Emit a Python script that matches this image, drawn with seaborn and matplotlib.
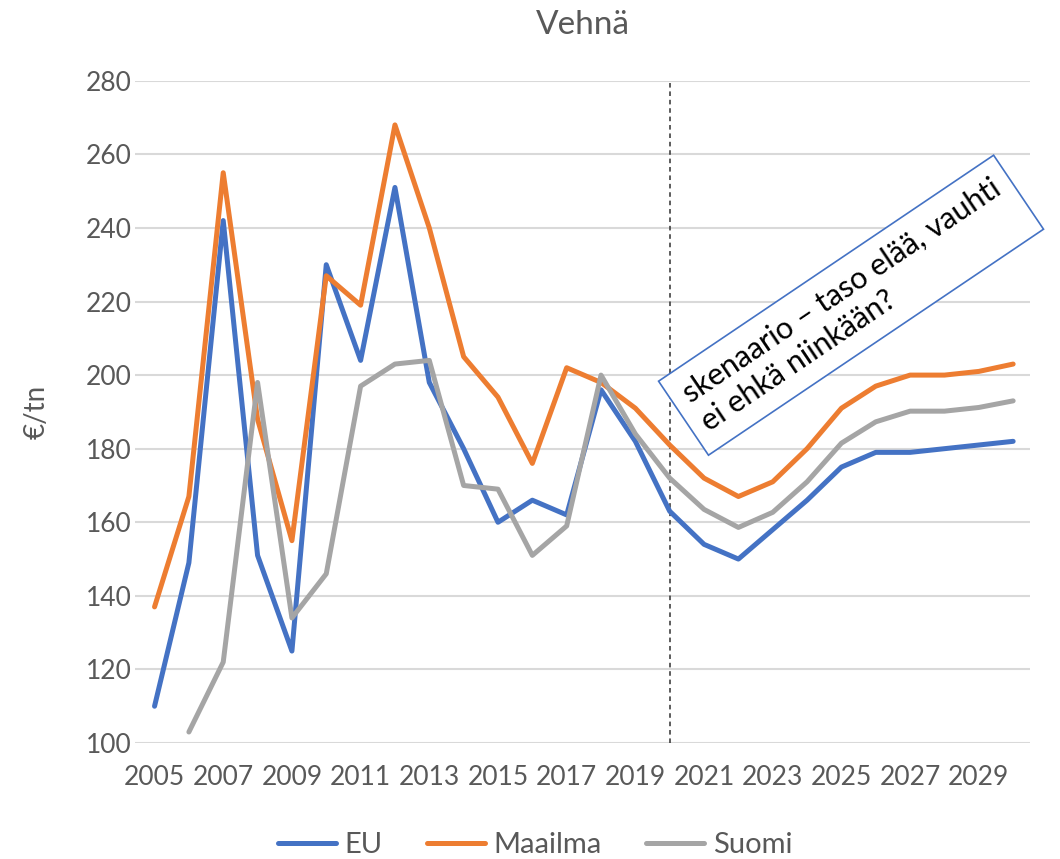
import numpy as np
import pandas as pd
import matplotlib
matplotlib.use("Agg")
import matplotlib.pyplot as plt
import seaborn as sns

years = list(range(2005, 2031))
eu = [110, 149, 242, 151, 125, 230, 204, 251, 198, 180, 160, 166, 162, 196, 182, 163,
      154, 150, 158, 166, 175, 179, 179, 180, 181, 182]
maailma = [137, 167, 255, 188, 155, 227, 219, 268, 240, 205, 194, 176, 202, 198, 191, 181,
           172, 167, 171, 180, 191, 197, 200, 200, 201, 203]
suomi = [np.nan, 103, 122, 198, 134, 146, 197, 203, 204, 170, 169, 151, 159, 200, 184, 172,
         163.5, 158.6, 162.7, 171, 181.5, 187.3, 190.2, 190.2, 191.2, 193]
series_names = ["EU", "Maailma", "Suomi"]
colors = ["#4472C4", "#ED7D31", "#A5A5A5"]
forecast_start = 2020
note = "skenaario – taso elää, vauhti\nei ehkä niinkään?"

df = pd.DataFrame({"vuosi": years, "EU": eu, "Maailma": maailma, "Suomi": suomi})
long = df.melt(id_vars="vuosi", var_name="sarja", value_name="hinta").dropna()

sns.set_style("white")
plt.rcParams["font.family"] = ["Lato", "DejaVu Sans"]
text_col = "#595959"

fig = plt.figure(figsize=(10.6, 8.59), dpi=100)
ax = fig.add_axes([0.127, 0.135, 0.845, 0.771])

ax.yaxis.grid(True, color="#D9D9D9", lw=1.5)
ax.set_axisbelow(True)
sns.lineplot(data=long, x="vuosi", y="hinta", hue="sarja", hue_order=series_names,
             palette=dict(zip(series_names, colors)), lw=3.6, ax=ax, legend=True)
ax.axvline(forecast_start, color="#303030", ls=(0, (3, 2.5)), lw=1.1, zorder=1)

ax.set_xlim(2004.42, 2030.5)
ax.set_ylim(100, 280)
ax.set_yticks(range(100, 281, 20))
ax.set_xticks(range(2005, 2030, 2))
ax.tick_params(axis="both", labelsize=19, colors=text_col, length=0)
ax.tick_params(axis="x", pad=16)
ax.tick_params(axis="y", pad=2)
for s in ax.spines.values():
    s.set_visible(False)
ax.set_xlabel("")
ax.set_ylabel("€/tn", fontsize=20, color=text_col, labelpad=26)
ax.set_title("Vehnä", fontsize=24, color=text_col, pad=34)

leg = ax.legend(loc="upper center", bbox_to_anchor=(0.447, -0.095), ncol=3, frameon=False,
                fontsize=21, handlelength=2.0, columnspacing=1.5, handletextpad=0.3)
for t in leg.get_texts():
    t.set_color(text_col)

ax.text(2025.28, 219, note, rotation=34, fontsize=22, color="black",
        ha="center", va="center", rotation_mode="anchor", linespacing=1.25,
        multialignment="left",
        bbox=dict(boxstyle="square,pad=0.45", fc="white", ec="#4472C4", lw=1.2), zorder=5)

fig.savefig("out.png", dpi=100)
